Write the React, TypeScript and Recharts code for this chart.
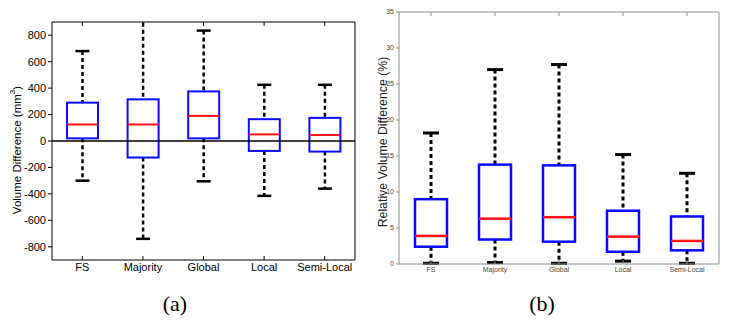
import { ComposedChart, Bar, XAxis, YAxis, ReferenceLine } from 'recharts';

const methods = ['FS', 'Majority', 'Global', 'Local', 'Semi-Local'];

// (a) volume difference, mm^3
const absMin = [-300, -740, -305, -415, -360];
const absQ1 = [20, -125, 20, -75, -80];
const absMedian = [125, 125, 190, 50, 45];
const absQ3 = [290, 315, 375, 165, 175];
const absMax = [680, 1000, 835, 425, 425];
const absTicks = [-800, -600, -400, -200, 0, 200, 400, 600, 800];

// (b) relative volume difference, %
const relMin = [0.1, 0.2, 0.1, 0.4, 0.1];
const relQ1 = [2.4, 3.4, 3.1, 1.7, 1.9];
const relMedian = [3.9, 6.3, 6.5, 3.8, 3.2];
const relQ3 = [9.0, 13.8, 13.7, 7.4, 6.6];
const relMax = [18.2, 27.0, 27.7, 15.2, 12.6];
const relTicks = [0, 5, 10, 15, 20, 25, 30, 35];

const FONT = '"Liberation Sans", Arial, Helvetica, sans-serif';

type Row = { name: string; min: number; q1: number; median: number; q3: number; max: number };

const buildRows = (mn: number[], q1: number[], md: number[], q3: number[], mx: number[]): Row[] =>
  methods.map((name, i) => ({ name, min: mn[i], q1: q1[i], median: md[i], q3: q3[i], max: mx[i] }));

const absRows = buildRows(absMin, absQ1, absMedian, absQ3, absMax);
const relRows = buildRows(relMin, relQ1, relMedian, relQ3, relMax);

interface BoxStyle {
  boxStroke: number;
  whiskerStroke: number;
  dash: string;
  capWidth: number;
  capStroke: number;
}

function makeBox(s: BoxStyle) {
  return (props: any) => {
    const { x, y, width, height, payload } = props;
    const top = Math.min(y, y + height);
    const bottom = Math.max(y, y + height);
    const span = payload.max - payload.min;
    const py = (v: number) => top + ((bottom - top) * (payload.max - v)) / span;
    const cx = x + width / 2;
    const yMax = py(payload.max);
    const yQ3 = py(payload.q3);
    const yMed = py(payload.median);
    const yQ1 = py(payload.q1);
    const yMin = py(payload.min);
    return (
      <g>
        <line x1={cx} x2={cx} y1={yMax} y2={yQ3} stroke="#000" strokeWidth={s.whiskerStroke} strokeDasharray={s.dash} />
        <line x1={cx} x2={cx} y1={yQ1} y2={yMin} stroke="#000" strokeWidth={s.whiskerStroke} strokeDasharray={s.dash} />
        <line x1={cx - s.capWidth / 2} x2={cx + s.capWidth / 2} y1={yMax} y2={yMax} stroke="#000" strokeWidth={s.capStroke} />
        <line x1={cx - s.capWidth / 2} x2={cx + s.capWidth / 2} y1={yMin} y2={yMin} stroke="#000" strokeWidth={s.capStroke} />
        <rect x={x} y={yQ3} width={width} height={yQ1 - yQ3} fill="none" stroke="#0a0aff" strokeWidth={s.boxStroke} />
        <line x1={x} x2={x + width} y1={yMed} y2={yMed} stroke="#ff1010" strokeWidth={s.boxStroke} />
      </g>
    );
  };
}

const blank = () => '';

function VolumeChart() {
  return (
    <div style={{ fontFamily: FONT, fontSize: 11 }}>
      <ComposedChart width={370} height={290} data={absRows} margin={{ top: 20, right: 13, bottom: 5, left: 12 }}>
        <XAxis xAxisId="volX" dataKey="name" tickSize={-4} tickMargin={7} height={25} interval={0} stroke="#000" tick={{ fill: '#000' }} />
        <XAxis xAxisId="volTop" orientation="top" dataKey="name" height={2} tickSize={-4} tickFormatter={blank} stroke="#000" />
        <YAxis
          yAxisId="vol"
          domain={[-900, 900]}
          ticks={absTicks}
          interval={0}
          allowDataOverflow
          width={40}
          tickSize={4}
          tickMargin={2}
          stroke="#000"
          tick={{ fill: '#000' }}
        />
        <YAxis
          yAxisId="volRight"
          orientation="right"
          domain={[-900, 900]}
          ticks={absTicks}
          interval={0}
          width={2}
          tickSize={-4}
          tickFormatter={blank}
          stroke="#000"
        />
        <ReferenceLine xAxisId="volX" yAxisId="vol" y={0} stroke="#000" strokeWidth={1.5} />
        <Bar
          xAxisId="volX"
          yAxisId="vol"
          dataKey={(d: Row) => [d.min, d.max]}
          barSize={31}
          isAnimationActive={false}
          shape={makeBox({ boxStroke: 2, whiskerStroke: 2.5, dash: '4 3', capWidth: 14, capStroke: 2.5 })}
        />
      </ComposedChart>
    </div>
  );
}

function RelativeChart() {
  const frame = '#8c8c8c';
  return (
    <div style={{ fontFamily: FONT, fontSize: 7 }}>
      <ComposedChart width={359} height={290} data={relRows} margin={{ top: 10, right: 8, bottom: 6, left: 5 }}>
        <XAxis xAxisId="relX" dataKey="name" tickSize={-4} tickMargin={7} height={20} interval={0} stroke={frame} tick={{ fill: '#444' }} />
        <XAxis xAxisId="relTop" orientation="top" dataKey="name" height={2} tickSize={-4} tickFormatter={blank} stroke={frame} />
        <YAxis
          yAxisId="rel"
          domain={[0, 35]}
          ticks={relTicks}
          interval={0}
          width={24}
          tickSize={3}
          tickMargin={2}
          stroke={frame}
          tick={{ fill: '#444' }}
        />
        <YAxis
          yAxisId="relRight"
          orientation="right"
          domain={[0, 35]}
          ticks={relTicks}
          interval={0}
          width={2}
          tickSize={-4}
          tickFormatter={blank}
          stroke={frame}
        />
        <Bar
          xAxisId="relX"
          yAxisId="rel"
          dataKey={(d: Row) => [d.min, d.max]}
          barSize={32}
          isAnimationActive={false}
          shape={makeBox({ boxStroke: 2.5, whiskerStroke: 3, dash: '4 3', capWidth: 16, capStroke: 3 })}
        />
      </ComposedChart>
    </div>
  );
}

// axis titles, rotated, drawn over the two charts
function AxisTitles() {
  return (
    <svg width={729} height={328} style={{ position: 'absolute', left: 0, top: 0, pointerEvents: 'none' }}>
      <text
        x={17}
        y={150}
        transform="rotate(-90 17 150)"
        textAnchor="middle"
        dominantBaseline="central"
        fontFamily={FONT}
        fontSize={11.5}
        fill="#000"
      >
        Volume Difference (mm
        <tspan baselineShift="super" fontSize={8}>
          3
        </tspan>
        )
      </text>
      <text
        x={383}
        y={142}
        transform="rotate(-90 383 142)"
        textAnchor="middle"
        dominantBaseline="central"
        fontFamily={FONT}
        fontSize={12.3}
        fill="#222"
      >
        Relative Volume Difference (%)
      </text>
    </svg>
  );
}

const captionStyle = {
  position: 'absolute' as const,
  top: 291,
  width: 80,
  textAlign: 'center' as const,
  fontFamily: '"Liberation Serif", "Times New Roman", serif',
  fontSize: 22,
  color: '#000',
};

export default function App() {
  return (
    <div style={{ position: 'absolute', left: 0, top: 0, width: 729, height: 328, background: '#fff', overflow: 'hidden' }}>
      <div style={{ position: 'absolute', left: 0, top: 0 }}>
        <VolumeChart />
      </div>
      <div style={{ position: 'absolute', left: 370, top: 0 }}>
        <RelativeChart />
      </div>
      <AxisTitles />
      <div style={{ ...captionStyle, left: 135 }}>(a)</div>
      <div style={{ ...captionStyle, left: 502 }}>(b)</div>
    </div>
  );
}
